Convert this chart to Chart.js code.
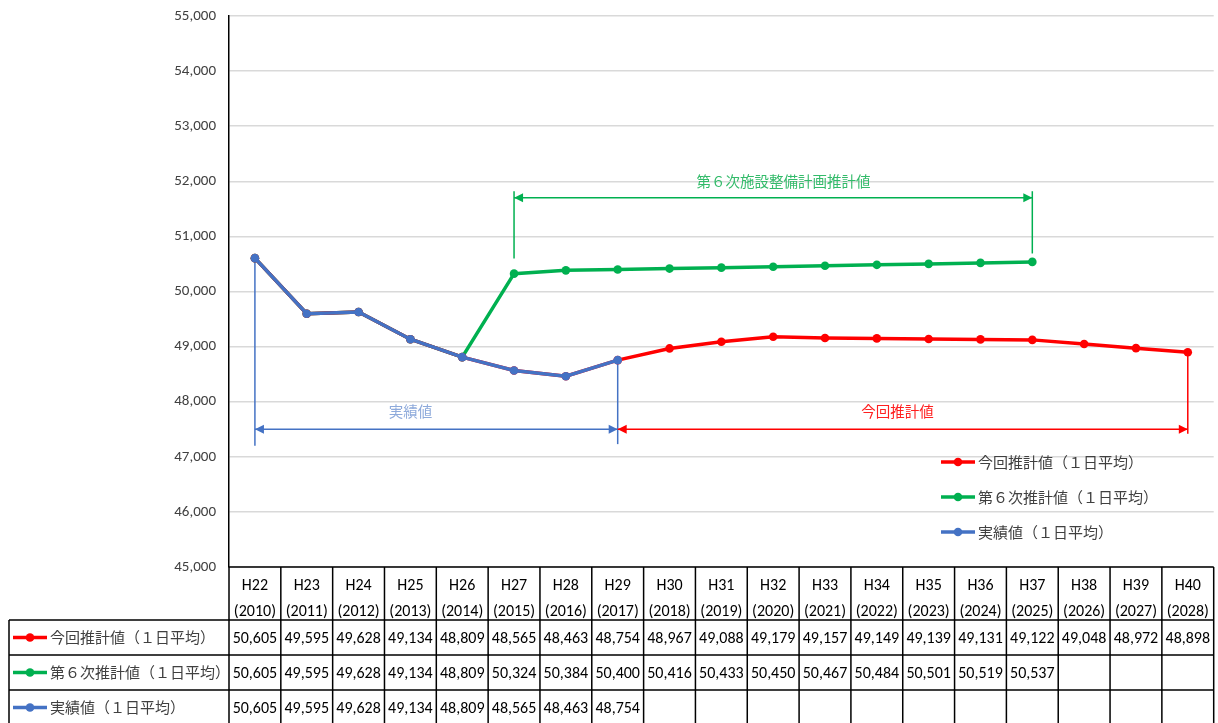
<!DOCTYPE html>
<html>
<head>
<meta charset="utf-8">
<script src="https://cdn.jsdelivr.net/npm/chart.js@4.4.1/dist/chart.umd.min.js"></script>
<style>
  html, body { margin: 0; padding: 0; background: #fff; }
  #wrap { width: 1218px; height: 723px; position: relative; }
</style>
</head>
<body>
<div id="wrap"><canvas id="chart"></canvas></div>
<script>
// --- données ---
const categories = ['H22','H23','H24','H25','H26','H27','H28','H29','H30','H31','H32','H33','H34','H35','H36','H37','H38','H39','H40'];
const years = ['(2010)','(2011)','(2012)','(2013)','(2014)','(2015)','(2016)','(2017)','(2018)','(2019)','(2020)','(2021)','(2022)','(2023)','(2024)','(2025)','(2026)','(2027)','(2028)'];
const konkai = [50605,49595,49628,49134,48809,48565,48463,48754,48967,49088,49179,49157,49149,49139,49131,49122,49048,48972,48898];
const dai6 = [50605,49595,49628,49134,48809,50324,50384,50400,50416,50433,50450,50467,50484,50501,50519,50537];
const jisseki = [50605,49595,49628,49134,48809,48565,48463,48754];
const seriesNames = ['今回推計値（１日平均）', '第６次推計値（１日平均）', '実績値（１日平均）'];
const seriesColors = ['#ff0000', '#00b050', '#4472c4'];
const seriesData = [konkai, dai6, jisseki];

// plages annotées (index de catégories)
const spans = [
  { text: '実績値', from: 0, to: 7, color: '#4472c4', textColor: '#8eaadb' },
  { text: '今回推計値', from: 7, to: 18, color: '#ff0000', textColor: '#ff2020' },
  { text: '第６次施設整備計画推計値', from: 5, to: 15, color: '#00b050', textColor: '#33bb6a' }
];

const NUM_FONT = "Carlito, 'Liberation Sans Narrow', 'Noto Sans CJK JP', sans-serif";
const JP_FONT = "'Noto Sans CJK JP', sans-serif";

const fmt = v => v.toLocaleString('en-US');

// --- annotations (flèches, traits verticaux, textes) ---
const annotPlugin = {
  id: 'annot',
  beforeDatasetsDraw(chart) {
    const ctx = chart.ctx, x = chart.scales.x, y = chart.scales.y;

    function vline(i, v1, v2, color) {
      ctx.strokeStyle = color; ctx.lineWidth = 1.5;
      ctx.beginPath();
      ctx.moveTo(x.getPixelForValue(i), y.getPixelForValue(v1));
      ctx.lineTo(x.getPixelForValue(i), y.getPixelForValue(v2));
      ctx.stroke();
    }
    function arrow(i1, i2, v, color) {
      const x1 = x.getPixelForValue(i1), x2 = x.getPixelForValue(i2), yy = y.getPixelForValue(v);
      ctx.strokeStyle = color; ctx.fillStyle = color; ctx.lineWidth = 1.5;
      ctx.beginPath(); ctx.moveTo(x1, yy); ctx.lineTo(x2, yy); ctx.stroke();
      ctx.beginPath(); ctx.moveTo(x2, yy); ctx.lineTo(x2 - 9, yy - 4.5); ctx.lineTo(x2 - 9, yy + 4.5); ctx.closePath(); ctx.fill();
      ctx.beginPath(); ctx.moveTo(x1, yy); ctx.lineTo(x1 + 9, yy - 4.5); ctx.lineTo(x1 + 9, yy + 4.5); ctx.closePath(); ctx.fill();
    }
    function label(t, i, v, color) {
      ctx.font = '14.5px ' + JP_FONT;
      ctx.fillStyle = color; ctx.textAlign = 'center'; ctx.textBaseline = 'middle';
      ctx.fillText(t, x.getPixelForValue(i), y.getPixelForValue(v));
    }

    ctx.save();
    // 実績値
    vline(spans[0].from, jisseki[0], 47200, spans[0].color);
    vline(spans[0].to, jisseki[7], 47230, spans[0].color);
    arrow(spans[0].from, spans[0].to, 47500, spans[0].color);
    label(spans[0].text, 3, 47820, spans[0].textColor);
    // 今回推計値
    vline(spans[1].to, konkai[18], 47420, spans[1].color);
    arrow(spans[1].from, spans[1].to, 47500, spans[1].color);
    label(spans[1].text, 12.4, 47820, spans[1].textColor);
    // 第６次
    vline(spans[2].from, 50600, 51820, spans[2].color);
    vline(spans[2].to, 50690, 51820, spans[2].color);
    arrow(spans[2].from, spans[2].to, 51700, spans[2].color);
    label(spans[2].text, 10.2, 52000, spans[2].textColor);
    ctx.restore();
  },
  afterDraw(chart) {
    const ctx = chart.ctx, x = chart.scales.x, a = chart.chartArea;
    ctx.save();

    // légende dans le graphique
    const legX = 941, legY = [462, 497, 532];
    seriesNames.forEach((n, k) => {
      ctx.strokeStyle = seriesColors[k]; ctx.fillStyle = seriesColors[k]; ctx.lineWidth = 3.5;
      ctx.beginPath(); ctx.moveTo(legX, legY[k]); ctx.lineTo(legX + 34, legY[k]); ctx.stroke();
      ctx.beginPath(); ctx.arc(legX + 17, legY[k], 4.3, 0, Math.PI * 2); ctx.fill();
      ctx.font = '15px ' + JP_FONT; ctx.fillStyle = '#404040';
      ctx.textAlign = 'left'; ctx.textBaseline = 'middle';
      ctx.fillText(n, legX + 37, legY[k]);
    });

    // tableau de données
    const top = a.bottom, rowY = [620, 655, 690, 725];
    const n = categories.length;
    const edges = [];
    for (let i = 0; i <= n; i++) {
      if (i === 0) edges.push(a.left);
      else if (i === n) edges.push(a.right);
      else edges.push((x.getPixelForValue(i - 1) + x.getPixelForValue(i)) / 2);
    }
    ctx.strokeStyle = '#000'; ctx.lineWidth = 1.5;
    ctx.beginPath();
    ctx.moveTo(a.left, top); ctx.lineTo(a.right, top);
    rowY.forEach(yy => { ctx.moveTo(9, yy); ctx.lineTo(a.right, yy); });
    edges.forEach(ex => { ctx.moveTo(ex, top); ctx.lineTo(ex, 725); });
    ctx.moveTo(9, rowY[0]); ctx.lineTo(9, 725);
    ctx.stroke();

    for (let k = 0; k < 3; k++) {
      const cy = (rowY[k] + rowY[k + 1]) / 2;
      ctx.strokeStyle = seriesColors[k]; ctx.fillStyle = seriesColors[k]; ctx.lineWidth = 3.5;
      ctx.beginPath(); ctx.moveTo(13, cy); ctx.lineTo(47, cy); ctx.stroke();
      ctx.beginPath(); ctx.arc(30, cy, 4.3, 0, Math.PI * 2); ctx.fill();
      ctx.font = '15px ' + JP_FONT; ctx.fillStyle = '#404040';
      ctx.textAlign = 'left'; ctx.textBaseline = 'middle';
      ctx.fillText(seriesNames[k], 50, cy);
      ctx.font = '16px ' + NUM_FONT; ctx.fillStyle = '#000'; ctx.textAlign = 'center';
      seriesData[k].forEach((v, i) => ctx.fillText(fmt(v), x.getPixelForValue(i), cy + 1));
    }
    ctx.restore();
  }
};

const ds = (label, data, color, order) => ({
  label, data, borderColor: color, backgroundColor: color,
  borderWidth: 3.5, pointRadius: 4.3, pointBackgroundColor: color, pointBorderWidth: 0,
  tension: 0, order
});

new Chart(document.getElementById('chart').getContext('2d'), {
  type: 'line',
  data: {
    labels: categories.map((c, i) => [c, years[i]]),
    datasets: [
      ds(seriesNames[0], konkai, seriesColors[0], 1),
      ds(seriesNames[1], dai6, seriesColors[1], 2),
      ds(seriesNames[2], jisseki, seriesColors[2], 0)
    ]
  },
  options: {
    responsive: true,
    maintainAspectRatio: false,
    animation: false,
    layout: { padding: { top: 16, left: 0, right: 0, bottom: 0 } },
    plugins: { legend: { display: false }, tooltip: { enabled: false } },
    scales: {
      x: {
        offset: true,
        grid: { display: false, drawTicks: false },
        border: { display: false },
        ticks: { autoSkip: false, maxRotation: 0, padding: 6, color: '#000',
                 font: { family: NUM_FONT, size: 16, lineHeight: '26px' } },
        afterFit: s => { s.height = 156; }
      },
      y: {
        min: 45000, max: 55000,
        grid: { color: '#d9d9d9', lineWidth: 1.5, drawTicks: false },
        border: { color: '#000', width: 1.5 },
        ticks: { stepSize: 1000, padding: 13, color: '#404040',
                 font: { family: NUM_FONT, size: 15 }, callback: v => fmt(v) },
        afterFit: s => { s.width = 229; s.paddingTop = 0; s.paddingBottom = 0; }
      }
    }
  },
  plugins: [annotPlugin]
});
</script>
</body>
</html>
